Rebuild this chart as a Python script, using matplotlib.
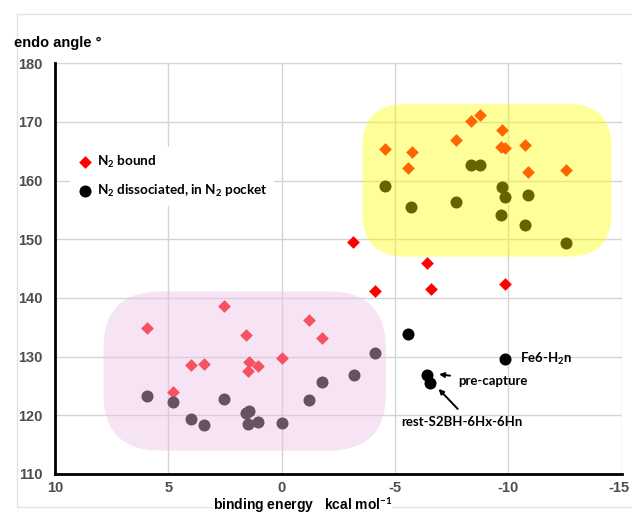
import matplotlib
matplotlib.use('Agg')
import matplotlib.pyplot as plt
from matplotlib.patches import FancyBboxPatch, Rectangle
from matplotlib.transforms import ScaledTranslation

plt.rcParams['mathtext.fontset'] = 'custom'
plt.rcParams['mathtext.rm'] = 'Lato:bold'
plt.rcParams['mathtext.bf'] = 'Lato:bold'
plt.rcParams['axes.unicode_minus'] = False

# N2 bound (diamonds)
bound_x = [-4.57, -5.74, -5.56, -7.70, -8.36, -8.77, -9.72, -9.69, -9.85, -10.72, -10.87, -12.54,
           -3.17, -6.40, -4.13, -6.58, -9.85,
           5.92, 2.54, 1.59, -1.21, -1.77, 4.01, 3.44, 1.43, 1.47, 1.02, 0.0, 4.80]
bound_y = [165.35, 164.8, 162.2, 167.0, 170.2, 171.2, 168.6, 165.8, 165.5, 166.0, 161.5, 161.8,
           149.5, 145.9, 141.2, 141.5, 142.35,
           134.8, 138.65, 133.7, 136.2, 133.2, 128.55, 128.7, 129.1, 127.6, 128.4, 129.75, 123.9]

# N2 dissociated, in N2 pocket (circles)
diss_x = [-4.57, -5.72, -7.70, -8.36, -8.77, -9.72, -9.85, -9.70, -10.88, -10.72, -12.54,
          -5.58, -9.84, -6.40, -6.56,
          5.92, 4.80, 4.01, 3.44, 2.54, 1.42, 1.59, 1.47, 1.02, 0.0, -1.23, -1.77, -3.19, -4.13]
diss_y = [159.15, 155.5, 156.4, 162.6, 162.7, 158.9, 157.2, 154.2, 157.5, 152.4, 149.4,
          133.9, 129.6, 126.95, 125.5,
          123.3, 122.3, 119.4, 118.4, 122.8, 120.7, 120.4, 118.6, 118.9, 118.7, 122.6, 125.7, 126.9, 130.7]

# shaded groups: (x_min, x_max, y_min, y_max, corner radius in x units)
yellow_box = (-14.56, -3.57, 147.05, 173.07, 1.9)
pink_box = (-4.6, 7.86, 114.0, 141.1, 2.5)

fig = plt.figure(figsize=(6.32, 5.17), dpi=100)
ax = fig.add_axes([0.087, 0.0832, 0.8964, 0.7944])

# light outer frame
fig.patches.append(Rectangle((0.027, 0.0193), 1.1, 0.954, transform=fig.transFigure,
                             fill=False, edgecolor='#e3e3e3', lw=1.0, zorder=0))

ax.scatter(bound_x, bound_y, marker='D', s=42, color='#ff0000', linewidths=0,
           label='N$_2$ bound', zorder=2)
ax.scatter(diss_x, diss_y, marker='o', s=75, color='black', linewidths=0,
           label='N$_2$ dissociated, in N$_2$ pocket', zorder=2)

ax.set_xlim(10, -15)
ax.set_ylim(110, 180)
ax.set_xticks([10, 5, 0, -5, -10, -15])
ax.set_yticks(range(110, 181, 10))

# aspect for circular corners
bb = ax.get_position()
w_px = bb.width * fig.get_figwidth() * fig.dpi
h_px = bb.height * fig.get_figheight() * fig.dpi
asp = (70 / h_px) / (25 / w_px)

for box, col, a in [(yellow_box, '#ffff00', 0.4), (pink_box, '#ebbfe6', 0.43)]:
    x0, x1, y0, y1, r = box
    ax.add_patch(FancyBboxPatch((x0, y0), x1 - x0, y1 - y0,
                                boxstyle='round,pad=0,rounding_size=%g' % r,
                                mutation_aspect=asp, facecolor=col, alpha=a,
                                edgecolor='none', zorder=3))

ax.grid(True, color='#d4d4d4', lw=1)
ax.set_axisbelow(True)
for s in ['top', 'right']:
    ax.spines[s].set_visible(False)
for s in ['left', 'bottom']:
    ax.spines[s].set_linewidth(2)
    ax.spines[s].set_zorder(4)
ax.tick_params(length=0, labelsize=10.5, labelcolor='#4d4d4d')
ax.tick_params(axis='y', pad=9)
ax.tick_params(axis='x', pad=5)
for lab in ax.get_xticklabels() + ax.get_yticklabels():
    lab.set_fontweight('bold')
    lab.set_family('Liberation Sans')
# keep the last x label inside the picture
last = ax.get_xticklabels()[-1]
last.set_transform(last.get_transform() + ScaledTranslation(-2 / 72, 0, fig.dpi_scale_trans))

leg = ax.legend(loc='upper left', bbox_to_anchor=(0.0265, 0.796), borderaxespad=0,
                frameon=True, framealpha=1, edgecolor='none', fancybox=False,
                handletextpad=0.3, labelspacing=0.95, borderpad=0.5, handlelength=1.2,
                prop={'family': 'Lato', 'weight': 'bold', 'size': 9.7})
leg.set_zorder(6)

tfont = {'family': 'Lato', 'weight': 'bold', 'size': 9.5}
ax.text(-10.54, 129.6, 'Fe6-H$_2$n', va='center', ha='left', zorder=7, **tfont)
ax.annotate('pre-capture', xy=(-6.95, 127.0), xytext=(-7.8, 125.8), va='center', ha='left',
            zorder=7, arrowprops=dict(arrowstyle='-|>', color='black', lw=1.4,
                                      mutation_scale=7, shrinkA=4, shrinkB=0), **tfont)
ax.annotate('', xy=(-6.93, 124.5), xytext=(-7.77, 121.1), zorder=7,
            arrowprops=dict(arrowstyle='-|>', color='black', lw=1.4,
                            mutation_scale=7, shrinkA=0, shrinkB=0))
ax.text(-5.27, 118.8, 'rest-S2BH-6Hx-6Hn', va='center', ha='left', zorder=7, **tfont)

fig.text(0.022, 0.917, 'endo angle °', ha='left', va='center', fontsize=10.5,
         fontweight='bold', family='Liberation Sans')
fig.text(0.479, 0.003, 'binding energy   kcal mol$^{-1}$', ha='center', va='bottom',
         fontsize=10, fontweight='bold', family='Liberation Sans',
         bbox=dict(facecolor='white', edgecolor='none', pad=0))

fig.savefig('out.png', dpi=100)
